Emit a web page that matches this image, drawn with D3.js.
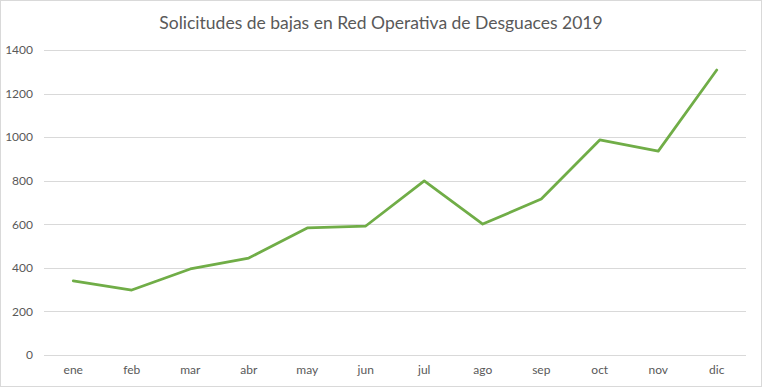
<!DOCTYPE html>
<html>
<head>
<meta charset="utf-8">
<script src="https://cdn.jsdelivr.net/npm/d3@7"></script>
<style>
  body { margin: 0; background: #fff; }
  text { font-family: Lato, "Open Sans", sans-serif; fill: #595959; }
</style>
</head>
<body>
<div id="chart"></div>
<script>
var months = ["ene", "feb", "mar", "abr", "may", "jun", "jul", "ago", "sep", "oct", "nov", "dic"];
var solicitudes = [340, 298, 395, 445, 583, 592, 799, 601, 716, 987, 936, 1308];
var yTicks = [0, 200, 400, 600, 800, 1000, 1200, 1400];
var title = "Solicitudes de bajas en Red Operativa de Desguaces 2019";

var svgWidth = 764;
var svgHeight = 389;

var margin = { top: 50, right: 18, bottom: 34, left: 44 };
var width = svgWidth - margin.left - margin.right;
var height = svgHeight - margin.top - margin.bottom;

var svg = d3.select("#chart")
  .append("svg")
  .attr("width", svgWidth)
  .attr("height", svgHeight);

// chart border
svg.append("rect")
  .attr("x", 0.5)
  .attr("y", 0.5)
  .attr("width", svgWidth - 3)
  .attr("height", svgHeight - 3)
  .attr("fill", "#fff")
  .attr("stroke", "#d9d9d9");

svg.append("text")
  .attr("x", 381)
  .attr("y", 29)
  .attr("text-anchor", "middle")
  .style("font-size", "17.5px")
  .text(title);

var chartGroup = svg.append("g")
  .attr("transform", `translate(${margin.left}, ${margin.top})`);

var xScale = d3.scaleBand()
  .domain(months)
  .range([0, width]);

var yScale = d3.scaleLinear()
  .domain([0, 1400])
  .range([height, 0]);

// gridlines
chartGroup.append("g")
  .selectAll("line")
  .data(yTicks)
  .enter()
  .append("line")
  .attr("x1", 0)
  .attr("x2", width)
  .attr("y1", d => Math.round(yScale(d)) + 0.5)
  .attr("y2", d => Math.round(yScale(d)) + 0.5)
  .attr("stroke", "#d9d9d9")
  .attr("stroke-width", 1);

// y axis labels
var leftAxis = d3.axisLeft(yScale).tickValues(yTicks).tickFormat(d3.format("d")).tickSize(0).tickPadding(11);
chartGroup.append("g")
  .call(leftAxis)
  .call(g => g.select(".domain").remove())
  .call(g => g.selectAll("text").style("font-size", "12px").style("fill", "#595959"));

// x axis labels
var bottomAxis = d3.axisBottom(xScale).tickSize(0).tickPadding(10);
chartGroup.append("g")
  .attr("transform", `translate(0, ${height})`)
  .call(bottomAxis)
  .call(g => g.select(".domain").remove())
  .call(g => g.selectAll("text").style("font-size", "12px").style("fill", "#595959"));

var line = d3.line()
  .x((d, i) => xScale(months[i]) + xScale.bandwidth() / 2)
  .y(d => yScale(d));

chartGroup.append("path")
  .datum(solicitudes)
  .attr("d", line)
  .attr("fill", "none")
  .attr("stroke", "#70ad47")
  .attr("stroke-width", 2.75)
  .attr("stroke-linejoin", "round")
  .attr("stroke-linecap", "round");
</script>
</body>
</html>
